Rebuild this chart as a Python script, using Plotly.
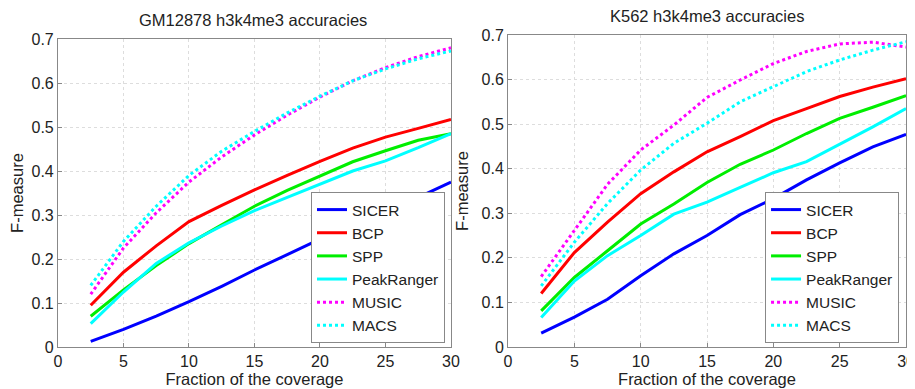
import plotly.graph_objects as go
from plotly.subplots import make_subplots

x_vals = [2.5, 5, 7.5, 10, 12.5, 15, 17.5, 20, 22.5, 25, 27.5, 30]
methods = ["SICER", "BCP", "SPP", "PeakRanger", "MUSIC", "MACS"]
colors = ["#0000ff", "#ff0000", "#00ee00", "#00ffff", "#ff00ff", "#00ffff"]
dashes = ["solid", "solid", "solid", "solid", "dot", "dot"]

gm_sicer = [0.013, 0.040, 0.070, 0.103, 0.138, 0.175, 0.210, 0.245, 0.275, 0.305, 0.340, 0.375]
gm_bcp = [0.095, 0.170, 0.230, 0.285, 0.322, 0.357, 0.390, 0.422, 0.452, 0.477, 0.497, 0.517]
gm_spp = [0.070, 0.130, 0.185, 0.235, 0.278, 0.320, 0.356, 0.388, 0.421, 0.446, 0.470, 0.485]
gm_peak = [0.053, 0.125, 0.190, 0.237, 0.275, 0.310, 0.340, 0.370, 0.400, 0.423, 0.453, 0.485]
gm_music = [0.120, 0.225, 0.305, 0.375, 0.432, 0.482, 0.527, 0.568, 0.605, 0.635, 0.660, 0.680]
gm_macs = [0.140, 0.240, 0.320, 0.390, 0.445, 0.490, 0.532, 0.570, 0.605, 0.632, 0.655, 0.673]

k5_sicer = [0.031, 0.067, 0.107, 0.160, 0.209, 0.250, 0.297, 0.333, 0.375, 0.413, 0.449, 0.477]
k5_bcp = [0.120, 0.212, 0.280, 0.344, 0.393, 0.438, 0.472, 0.508, 0.535, 0.562, 0.583, 0.602]
k5_spp = [0.081, 0.156, 0.216, 0.276, 0.321, 0.369, 0.410, 0.442, 0.479, 0.513, 0.538, 0.564]
k5_peak = [0.066, 0.148, 0.205, 0.250, 0.298, 0.325, 0.358, 0.391, 0.416, 0.455, 0.494, 0.535]
k5_music = [0.158, 0.262, 0.365, 0.442, 0.498, 0.560, 0.599, 0.636, 0.663, 0.680, 0.684, 0.673]
k5_macs = [0.137, 0.235, 0.322, 0.397, 0.457, 0.502, 0.550, 0.584, 0.618, 0.644, 0.666, 0.685]

titles = ["GM12878 h3k4me3 accuracies", "K562 h3k4me3 accuracies"]
x_ticks = [0, 5, 10, 15, 20, 25, 30]
y_ticks = [0, 0.1, 0.2, 0.3, 0.4, 0.5, 0.6, 0.7]

gm_data = [gm_sicer, gm_bcp, gm_spp, gm_peak, gm_music, gm_macs]
k5_data = [k5_sicer, k5_bcp, k5_spp, k5_peak, k5_music, k5_macs]

fig = make_subplots(rows=1, cols=2)
FONT = "Arial, Liberation Sans, sans-serif"

for col, data, leg in [(1, gm_data, "legend"), (2, k5_data, "legend2")]:
    for name, ys, c, d in zip(methods, data, colors, dashes):
        fig.add_trace(go.Scatter(x=x_vals, y=ys, mode="lines", name=name,
                                 line=dict(color=c, width=3, dash=d),
                                 legend=leg), row=1, col=col)

axis_common = dict(showline=True, linecolor="#888888", linewidth=1, mirror=True,
                   ticks="inside", ticklen=4, tickcolor="#888888",
                   showgrid=True, gridcolor="#dddddd", griddash="dot", gridwidth=1,
                   zeroline=False, automargin=False, ticklabeloverflow="allow",
                   tickfont=dict(size=16, color="#222222", family=FONT))

fig.update_xaxes(range=[0, 30], tickvals=x_ticks, **axis_common)
fig.update_yaxes(range=[0, 0.7], tickvals=y_ticks, **axis_common)

# page body has an 8px margin, so the figure is sized 8px smaller
fig.update_layout(
    width=907, height=381,
    margin=dict(l=0, r=0, t=0, b=0),
    plot_bgcolor="white", paper_bgcolor="white",
    font=dict(family=FONT, color="#222222"),
    xaxis=dict(domain=[0.0551, 0.4884],
               title=dict(text="Fraction of the coverage", font=dict(size=16.5), standoff=0)),
    xaxis2=dict(domain=[0.5513, 0.9901],
                title=dict(text="Fraction of the coverage", font=dict(size=16.5), standoff=0)),
    yaxis=dict(domain=[0.1102, 0.9186],
               title=dict(text="F-measure", font=dict(size=16.5), standoff=8)),
    yaxis2=dict(domain=[0.1102, 0.9291],
                title=dict(text="F-measure", font=dict(size=16.5), standoff=8)),
    legend=dict(x=0.4818, y=0.1207, xanchor="right", yanchor="bottom",
                bgcolor="white", bordercolor="#888888", borderwidth=1,
                font=dict(size=15.5, family=FONT), tracegroupgap=0, itemwidth=30),
    legend2=dict(x=0.9824, y=0.1207, xanchor="right", yanchor="bottom",
                 bgcolor="white", bordercolor="#888888", borderwidth=1,
                 font=dict(size=15.5, family=FONT), tracegroupgap=0, itemwidth=30),
    showlegend=True,
    annotations=[
        dict(text=titles[0], x=0.270, y=0.9685, xref="paper", yref="paper",
             showarrow=False, font=dict(size=16.5, family=FONT), xanchor="center", yanchor="middle"),
        dict(text=titles[1], x=0.7707, y=0.979, xref="paper", yref="paper",
             showarrow=False, font=dict(size=16.5, family=FONT), xanchor="center", yanchor="middle"),
    ],
)

fig.write_html("out.html")
